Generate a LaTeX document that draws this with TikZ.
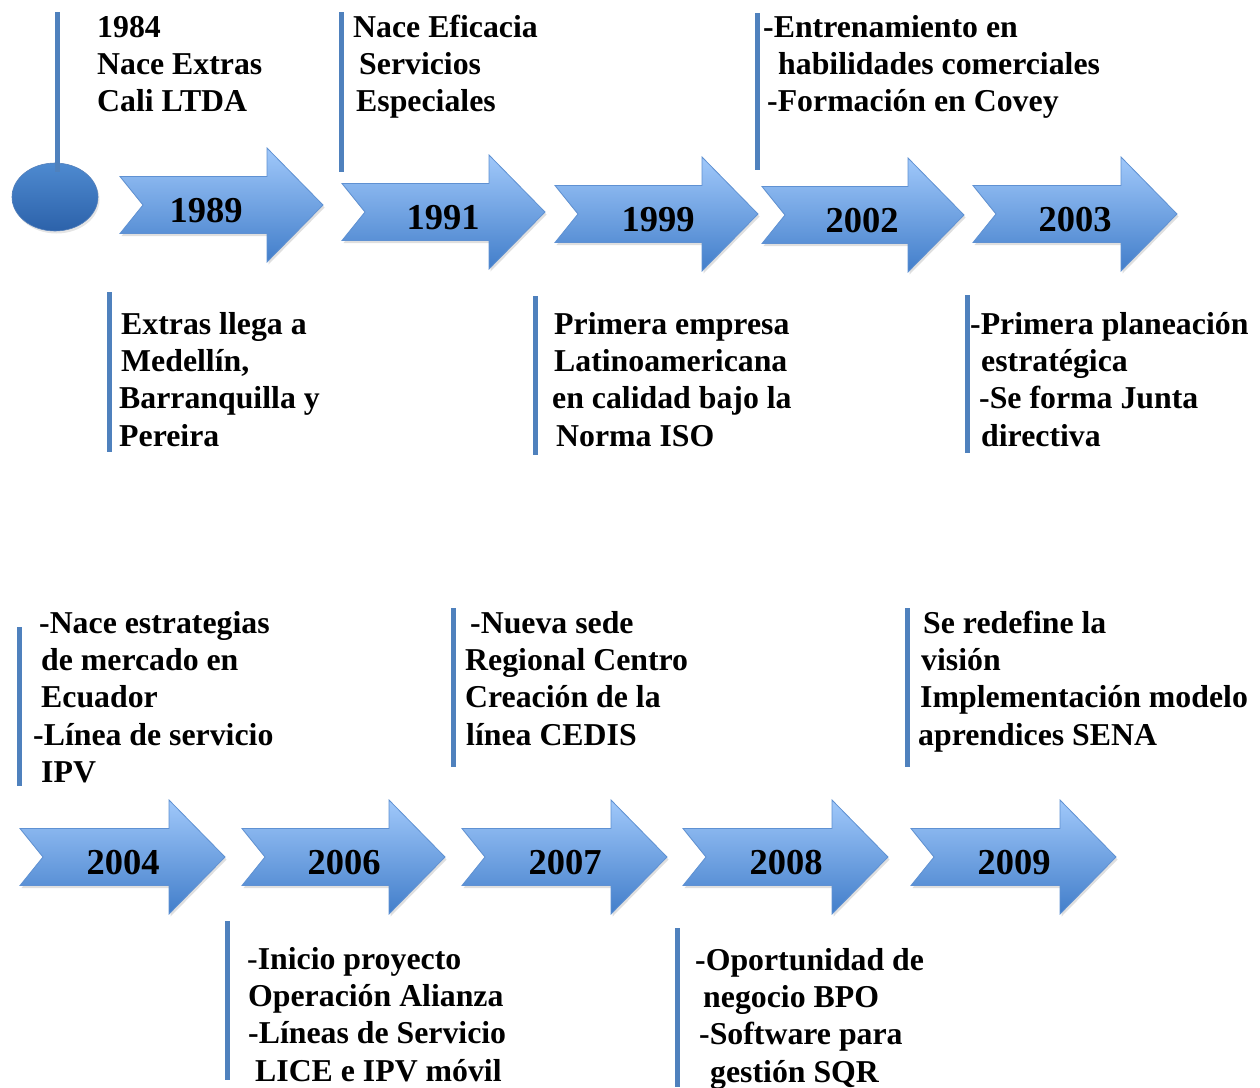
\documentclass[tikz,border=0pt]{standalone}
\usepackage{fontspec}
\setmainfont{Liberation Serif}
\usetikzlibrary{shadows}
\definecolor{barblue}{RGB}{79,129,189}
\definecolor{arrowtop}{RGB}{160,200,250}
\definecolor{arrowbottom}{RGB}{66,126,202}
\definecolor{arrowedge}{RGB}{95,145,210}
\definecolor{balltop}{RGB}{78,138,208}
\definecolor{ballbottom}{RGB}{44,98,170}
\newcommand\tlarrow[6]{%
  \path[tlarrowshape] (#2,#4-28.5) -- (#3-56,#4-28.5) -- (#3-56,#4-57) -- (#3,#4)
    -- (#3-56,#4+57) -- (#3-56,#4+28.5) -- (#2,#4+28.5) -- (#2+23,#4) -- cycle;
  \node[yeartext] (#1) at (#5,#4+17) {#6};}
\newcommand\tlblock[3]{%
  \foreach \xx/\lntext [count=\i] in {#3} {\node[tltext] (#1-\i) at (\xx,{#2+(\i-1)*37.4}) {\lntext};}}
\begin{document}
\begin{tikzpicture}[x=1pt,y=-1pt,
  tltext/.style={anchor=base west, inner sep=0pt, font=\fontsize{31.8}{37.5}\selectfont\bfseries},
  yeartext/.style={anchor=base, inner sep=0pt, font=\fontsize{36.5}{42}\selectfont\bfseries},
  tlarrowshape/.style={draw=arrowedge, line width=0.8pt, top color=arrowtop, bottom color=arrowbottom,
    drop shadow={opacity=0.25, shadow xshift=1.5pt, shadow yshift=-2.5pt}},
  tlbar/.style={draw=barblue, line width=5pt},
  tlball/.style={draw=ballbottom!80!white, line width=0.6pt, top color=balltop, bottom color=ballbottom,
    drop shadow={opacity=0.2, shadow xshift=1.5pt, shadow yshift=-2.5pt}}]
\useasboundingbox (0,0) rectangle (1260,1087);
\fill[white] (0,0) rectangle (1260,1087);

% start ball
\path[tlball] (55,197) ellipse [x radius=43, y radius=34];
\draw[tlbar] (57,12) -- (57,172);

% arrows row 1
\tlarrow{y1989}{120}{323}{205}{206}{1989}
\tlarrow{y1991}{342}{545}{212}{443}{1991}
\tlarrow{y1999}{555}{758}{214}{658}{1999}
\tlarrow{y2002}{762}{964}{215}{862}{2002}
\tlarrow{y2003}{973}{1177}{214}{1075}{2003}
% arrows row 2
\tlarrow{y2004}{20}{225}{857}{123}{2004}
\tlarrow{y2006}{242}{445}{857}{344}{2006}
\tlarrow{y2007}{462}{667}{857}{565}{2007}
\tlarrow{y2008}{683}{888}{857}{786}{2008}
\tlarrow{y2009}{911}{1116}{857}{1014}{2009}

% bars
\draw[tlbar] (341,12) -- (341,172);
\draw[tlbar] (757,13) -- (757,170);
\draw[tlbar] (109,292) -- (109,452);
\draw[tlbar] (535,296) -- (535,455);
\draw[tlbar] (967,295) -- (967,453);
\draw[tlbar] (19,627) -- (19,786);
\draw[tlbar] (453,608) -- (453,767);
\draw[tlbar] (907,608) -- (907,767);
\draw[tlbar] (227,921) -- (227,1080);
\draw[tlbar] (677,928) -- (677,1087);

% texts row 1 top
\tlblock{t1984}{37}{97/1984, 97/Nace Extras, 97/Cali LTDA}
\tlblock{t1991}{37}{353/Nace Eficacia, 359/Servicios, 356/Especiales}
\tlblock{t2002}{37}{763/-Entrenamiento en, 778/habilidades comerciales, 767/-Formación en Covey}
% texts row 1 bottom
\tlblock{t1989}{334}{121/Extras llega a, 121/{Medellín,}, 119/Barranquilla y, 119/Pereira}
\tlblock{t1999}{334}{554/Primera empresa, 554/Latinoamericana, 552/en calidad bajo la, 556/Norma ISO}
\tlblock{t2003}{334}{970/-Primera planeación, 981/estratégica, 979/-Se forma Junta, 981/directiva}
% texts row 2 top
\tlblock{t2004}{633}{39/-Nace estrategias, 41/de mercado en, 41/Ecuador, 33/-Línea de servicio, 41/IPV}
\tlblock{t2007}{633}{470/-Nueva sede, 465/Regional Centro, 465/Creación de la, 466/línea CEDIS}
\tlblock{t2009}{633}{923/Se redefine la, 921/visión, 920/Implementación modelo, 918/aprendices SENA}
% texts row 2 bottom
\tlblock{t2006}{969}{247/{\textmd{-}Inicio proyecto}, 248/Operación Alianza, 248/-Líneas de Servicio, 255/LICE e IPV móvil}
\tlblock{t2008}{970}{695/-Oportunidad de, 703/negocio BPO, 699/-Software para, 710/gestión SQR}
\end{tikzpicture}
\end{document}
